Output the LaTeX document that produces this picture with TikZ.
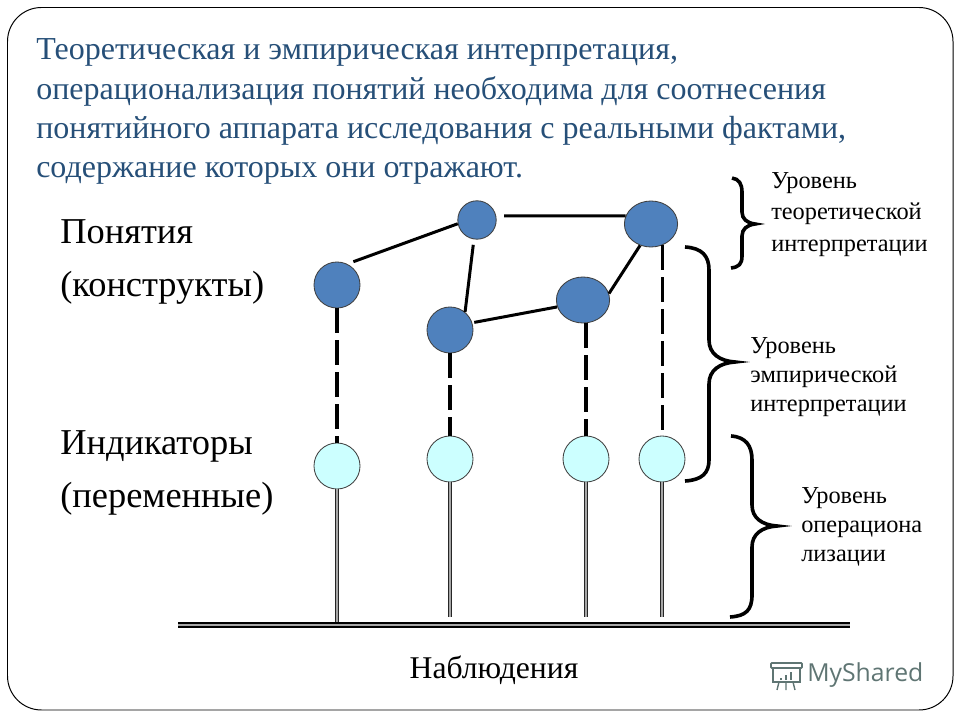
\documentclass[tikz,border=0pt]{standalone}
\usepackage{fontspec}
\setmainfont{Liberation Serif}
\newfontfamily\logofont{Open Sans}
\usetikzlibrary{shapes.geometric}
\definecolor{titleblue}{HTML}{264F78}
\definecolor{conceptblue}{HTML}{4F81BD}
\definecolor{indicatorcyan}{HTML}{CCFFFF}
\definecolor{logogray}{HTML}{5F7573}
\tikzset{
    	concept/.style={ellipse,draw=black!75,line width=.6pt,fill=conceptblue,inner sep=0pt,minimum width=1.15cm,minimum height=1.15cm},
    	wideconcept/.style={concept,minimum width=1.33cm},
    	topconcept/.style={concept,minimum width=.96cm,minimum height=.96cm},
    	indicator/.style={concept,fill=indicatorcyan},
    	link/.style={line width=.075cm},
    	gaplink/.style={line width=.08cm,dash pattern=on .62cm off .18cm},
    	stem/.style={draw=black!85,line width=.7pt,double=gray!70,double distance=1.5pt},
    	base/.style={draw=black,line width=1.4pt,double=gray!70,double distance=1.7pt},
    	curly/.style={line width=.09cm},
    	title/.style={anchor=west,align=left,inner sep=0pt,text=titleblue,font=\fontsize{22.75}{27.8}\selectfont},
    	side/.style={anchor=west,align=left,inner sep=0pt,font=\fontsize{25.9}{37.8}\selectfont},
    	level/.style={anchor=west,align=left,inner sep=0pt,font=\fontsize{17.3}{20.7}\selectfont}}
\begin{document}
\begin{tikzpicture}
  [x=.025cm,y=-.025cm]
  \useasboundingbox (0,0) rectangle (960,720);
  \draw [line width=.7pt,rounded corners=.85cm] (7.5,7.5) rectangle (953,710);

  \node [title] (t0) at (36,111.5) {Теоретическая и эмпирическая интерпретация,\\операционализация понятий необходима для соотнесения\\понятийного аппарата исследования с реальными фактами,\\содержание которых они отражают.};
  \node [side] (t1) at (60,262) {Понятия\\(конструкты)};
  \node [side] (t2) at (60,473) {Индикаторы\\(переменные)};
  \node [level,font=\fontsize{17.3}{22.4}\selectfont] (t3) at (771,214.5) {Уровень\\теоретической\\интерпретации};
  \node [level] (t4) at (750,377) {Уровень\\эмпирической\\интерпретации};
  \node [level] (t5) at (801,527) {Уровень\\операциона\\лизации};
  \node [inner sep=0pt,font=\fontsize{22.5}{27}\selectfont] (t6) at (494,670) {Наблюдения};

  \node [concept] (n1) at (337,285) {};
  \node [topconcept] (n2) at (477,220) {};
  \node [wideconcept] (n3) at (651,224) {};
  \node [concept] (n4) at (450,330) {};
  \node [wideconcept] (n5) at (583,300) {};
  \node [indicator] (i1) at (337,466) {};
  \node [indicator] (i2) at (450,459) {};
  \node [indicator] (i3) at (586,459) {};
  \node [indicator] (i4) at (662,459) {};

  \foreach \from/\to/\gap in {n1.64/n2.191/6.5,n2.12/n3.162/8,n2.261/n4.50/5.5,n4.18/n5.195/2,n5.14/n3.243/0}
    \draw[link,shorten <=\gap*.025cm] (\from) -- (\to);

  \draw [gaplink] (n1.south) -- (i1.north);
  \draw [gaplink] (n4.south) -- (i2.north);
  \draw [gaplink] (i3.north |- n5.south) -- (i3.north);
  \draw [gaplink] (n3.-62) -- (n3.-62 |- i4.north);

  \coordinate (b0) at (178,625);
  \coordinate (b5) at (850,625);
  \coordinate (b1) at (337,625);
  \coordinate (b2) at (450,617);
  \coordinate (b3) at (586,617);
  \coordinate (b4) at (662,617);
  \foreach \from/\to in {i1/b1,i2/b2,i3/b3,i4/b4}
    \draw[stem] (\from.south) -- (\to);
  \draw [base] (b0) -- (b5);

  \draw [curly] (732,178) .. controls (739,179) and (742,184) .. (742,192) -- (742,212) .. controls (742,219) and (747,223) .. (755,224) .. controls (747,225) and (742,229) .. (742,236) -- (742,256) .. controls (742,264) and (739,267) .. (731,268);
  \draw [curly] (685,247) .. controls (702,248) and (709,256) .. (709,270) -- (709,340) .. controls (709,354) and (720,361) .. (735,362) .. controls (720,363) and (709,370) .. (709,384) -- (709,460) .. controls (709,473) and (702,480) .. (685,481);
  \draw [curly] (731,436) .. controls (746,437) and (752,446) .. (752,460) -- (752,505) .. controls (752,518) and (762,525) .. (777,526) .. controls (762,527) and (752,534) .. (752,547) -- (752,595) .. controls (752,610) and (746,616) .. (730,617);

  \node [inner sep=0pt,anchor=west,text=logogray,font=\logofont\fontsize{17.6}{21}\selectfont] (t7) at (807,675) {MyShared};
  \draw [logogray,line width=1.1pt,rounded corners=.5pt] (771,663) rectangle (802,668);
  \draw [logogray,line width=1.1pt] (773,668) rectangle (800,682);
  \draw [logogray,line width=1.6pt] (781,680) -- (781,678) (786,680) -- (786,675) (791,680) -- (791,672);
  \draw [logogray,line width=1pt] (779,682) -- (777,690) (786,682) -- (786,690) (793,682) -- (795,690);
\end{tikzpicture}
\end{document}
